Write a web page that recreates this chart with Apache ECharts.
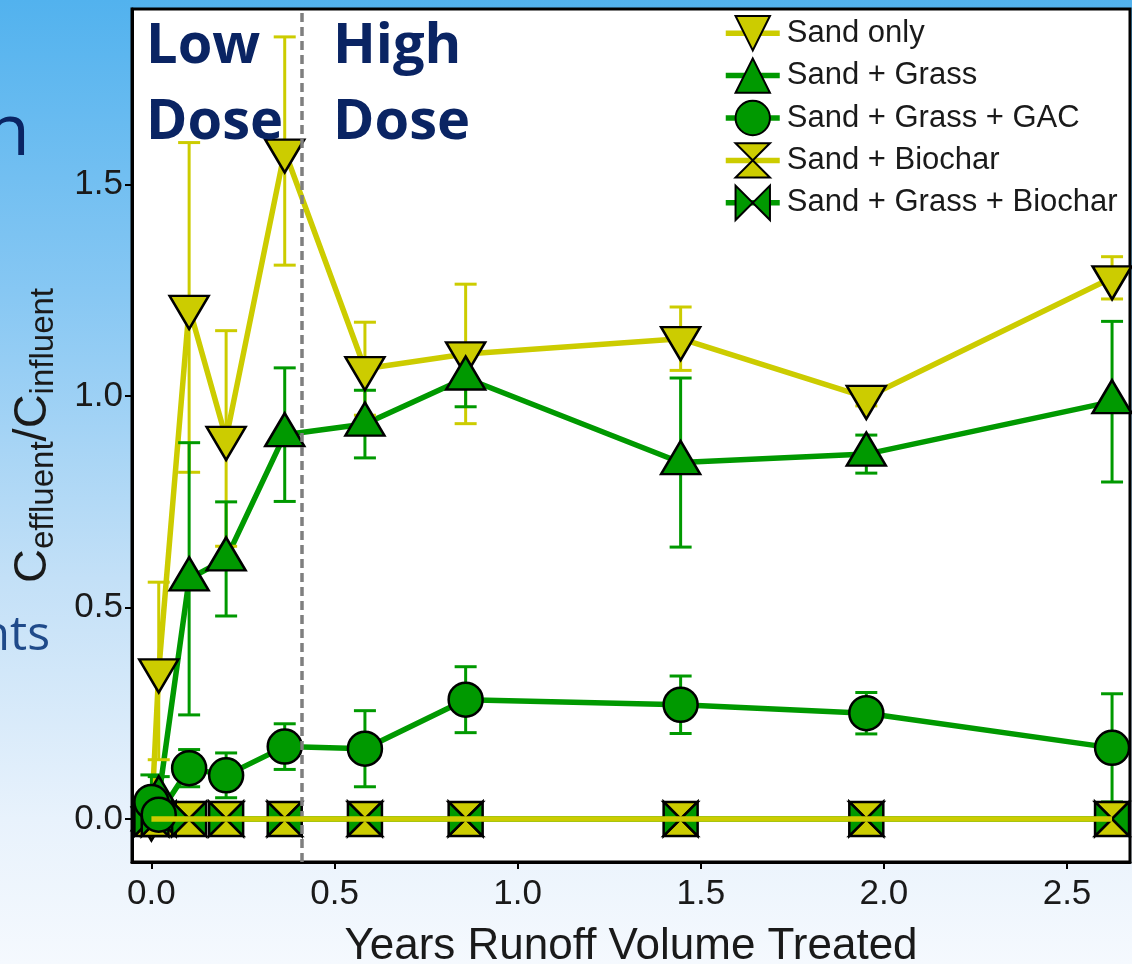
<!DOCTYPE html>
<html>
<head>
<meta charset="utf-8">
<script src="https://cdn.jsdelivr.net/npm/echarts@6/dist/echarts.min.js"></script>
<style>
  html, body { margin: 0; padding: 0; }
  #chart { width: 1132px; height: 964px; }
</style>
</head>
<body>
<div id="chart"></div>
<script>
// x positions (years of runoff volume treated)
const years = [0, 0.02, 0.103, 0.204, 0.364, 0.583, 0.858, 1.445, 1.952, 2.623];
// C_effluent / C_influent, mean and sd
const sandOnly = [0, 0.35, 1.21, 0.90, 1.58, 1.065, 1.10, 1.136, 0.997, 1.28];
const sandOnlySd = [0, 0.21, 0.39, 0.255, 0.27, 0.11, 0.165, 0.075, 0.02, 0.05];
const sandGrass = [0, 0.05, 0.568, 0.615, 0.909, 0.934, 1.043, 0.843, 0.863, 0.987];
const sandGrassSd = [0, 0.05, 0.322, 0.135, 0.158, 0.08, 0.068, 0.2, 0.045, 0.19];
const sandGrassGac = [0.04, 0.01, 0.12, 0.103, 0.171, 0.166, 0.282, 0.27, 0.25, 0.168];
const sandGrassGacSd = [0.064, 0.01, 0.044, 0.053, 0.054, 0.09, 0.078, 0.068, 0.049, 0.128];
const sandBiochar = [0, 0, 0, 0, 0, 0, 0, 0, 0, 0];
const sandGrassBiochar = [0, 0, 0, 0, 0, 0, 0, 0, 0, 0];
const xTicks = [0, 0.5, 1, 1.5, 2, 2.5];
const yTicks = [0, 0.5, 1, 1.5];
const doseSplit = 0.415;

const YELLOW = '#cccc00';
const GREEN = '#009900';
const HOURGLASS = 'path://M0,0L10,0L0,10L10,10Z';
const BOWTIE = 'path://M0,0L0,10L10,0L10,10Z';

const groups = [
  { name: 'Sand only', vals: sandOnly, sd: sandOnlySd, color: YELLOW, symbol: 'triangle', size: [39, 33], rotate: 180, offset: [0, 5] },
  { name: 'Sand + Grass', vals: sandGrass, sd: sandGrassSd, color: GREEN, symbol: 'triangle', size: [39, 33], rotate: 0, offset: [0, -5] },
  { name: 'Sand + Grass + GAC', vals: sandGrassGac, sd: sandGrassGacSd, color: GREEN, symbol: 'circle', size: 34, rotate: 0, offset: [0, 0] },
  { name: 'Sand + Biochar', vals: sandBiochar, sd: null, color: YELLOW, symbol: HOURGLASS, size: 34, rotate: 0, offset: [0, 0] },
  { name: 'Sand + Grass + Biochar', vals: sandGrassBiochar, sd: null, color: GREEN, symbol: BOWTIE, size: 34, rotate: 0, offset: [0, 0] }
];

const pairs = vals => years.map((x, i) => [x, vals[i]]);

const series = [];
// lines (first, so legend takes its icon from them)
groups.forEach((g, gi) => {
  series.push({
    name: g.name,
    type: 'line',
    data: pairs(g.vals),
    showSymbol: false,
    symbol: g.symbol,
    symbolSize: g.size,
    symbolRotate: g.rotate,
    lineStyle: { color: g.color, width: 5.5 },
    itemStyle: { color: g.color, borderColor: '#000', borderWidth: 2.5 },
    z: g.name === 'Sand + Biochar' ? 6 : 2,
    silent: true,
    markLine: gi === 0 ? {
      silent: true,
      symbol: ['none', 'none'],
      label: { show: false },
      lineStyle: { color: '#7f7f7f', type: [9, 5], width: 3.5 },
      data: [{ xAxis: doseSplit }]
    } : undefined
  });
});
// error bars
groups.forEach(g => {
  if (!g.sd) return;
  series.push({
    name: g.name + ' sd',
    type: 'custom',
    z: 3,
    silent: true,
    data: years.map((x, i) => [x, g.vals[i] - g.sd[i], g.vals[i] + g.sd[i]]),
    encode: { x: 0, y: [1, 2] },
    renderItem: function (params, api) {
      const x = api.value(0);
      const lo = api.coord([x, api.value(1)]);
      const hi = api.coord([x, api.value(2)]);
      const w = 11;
      const st = { stroke: g.color, lineWidth: 3 };
      return {
        type: 'group',
        children: [
          { type: 'line', shape: { x1: hi[0], y1: hi[1], x2: lo[0], y2: lo[1] }, style: st },
          { type: 'line', shape: { x1: hi[0] - w, y1: hi[1], x2: hi[0] + w, y2: hi[1] }, style: st },
          { type: 'line', shape: { x1: lo[0] - w, y1: lo[1], x2: lo[0] + w, y2: lo[1] }, style: st }
        ]
      };
    }
  });
});
// markers
[0, 1, 3, 4, 2].forEach(gi => {
  const g = groups[gi];
  series.push({
    name: g.name,
    type: 'scatter',
    data: pairs(g.vals),
    symbol: g.symbol,
    symbolSize: g.size,
    symbolRotate: g.rotate,
    symbolOffset: g.offset,
    itemStyle: { color: g.color, borderColor: '#000', borderWidth: 2.5, opacity: 1 },
    z: 4,
    silent: true
  });
});

const chart = echarts.init(document.getElementById('chart'));
chart.setOption({
  animation: false,
  backgroundColor: 'transparent',
  textStyle: { fontFamily: 'Liberation Sans, Arial, sans-serif' },
  graphic: [
    {
      type: 'rect', z: -10, silent: true,
      shape: { x: 0, y: 0, width: 1132, height: 964 },
      style: {
        fill: new echarts.graphic.LinearGradient(0, 0, 0, 1, [
          { offset: 0, color: '#52b2ee' },
          { offset: 0.3, color: '#86c7f3' },
          { offset: 0.6, color: '#c3e0f7' },
          { offset: 0.85, color: '#e8f2fc' },
          { offset: 1, color: '#f5f9fe' }
        ])
      }
    },
    { type: 'text', z: 10, silent: true, style: { text: 'n', x: 30, y: 134, align: 'right', verticalAlign: 'middle', fill: '#0a2463', font: '72px "Open Sans", sans-serif' } },
    { type: 'text', z: 10, silent: true, style: { text: 'nts', x: 50, y: 636, align: 'right', verticalAlign: 'middle', fill: '#1f4a8a', font: '48px "Open Sans", sans-serif' } },
    { type: 'text', z: 10, silent: true, style: { text: 'Low', x: 146, y: 47, verticalAlign: 'middle', fill: '#0a2463', font: 'bold 56px "Open Sans", sans-serif' } },
    { type: 'text', z: 10, silent: true, style: { text: 'Dose', x: 146, y: 123, verticalAlign: 'middle', fill: '#0a2463', font: 'bold 56px "Open Sans", sans-serif' } },
    { type: 'text', z: 10, silent: true, style: { text: 'High', x: 333, y: 47, verticalAlign: 'middle', fill: '#0a2463', font: 'bold 56px "Open Sans", sans-serif' } },
    { type: 'text', z: 10, silent: true, style: { text: 'Dose', x: 333, y: 123, verticalAlign: 'middle', fill: '#0a2463', font: 'bold 56px "Open Sans", sans-serif' } }
  ],
  grid: {
    left: 132, right: 2, top: 9, bottom: 102,
    outerBoundsMode: 'none',
    containLabel: false,
    show: true, backgroundColor: '#fff', borderColor: '#000', borderWidth: 3
  },
  legend: {
    data: groups.map(g => g.name),
    orient: 'vertical',
    left: 718, top: 10,
    itemWidth: 54, itemHeight: 43, itemGap: 6,
    selectedMode: false,
    lineStyle: { width: 5.5 },
    textStyle: { fontSize: 31, color: '#1a1a1a', padding: [0, 0, 0, 2], fontFamily: 'Liberation Sans, Arial, sans-serif' }
  },
  xAxis: {
    type: 'value',
    min: -0.053, max: 2.672,
    name: 'Years Runoff Volume Treated',
    nameLocation: 'middle', nameGap: 63,
    nameTextStyle: { fontSize: 44, color: '#1a1a1a' },
    axisLine: { show: true, onZero: false, lineStyle: { color: '#000', width: 3 } },
    axisTick: { show: true, length: 7, customValues: xTicks, lineStyle: { color: '#000', width: 2 } },
    axisLabel: { customValues: xTicks, fontSize: 35, color: '#1a1a1a', margin: 15, formatter: v => v.toFixed(1) },
    splitLine: { show: false }
  },
  yAxis: {
    type: 'value',
    min: -0.102, max: 1.916,
    name: '{c|C}{s|effluent}{c|/C}{s|influent}',
    nameLocation: 'middle', nameGap: 72, nameRotate: 90,
    nameTextStyle: {
      color: '#1a1a1a',
      rich: {
        c: { fontSize: 47, lineHeight: 54, color: '#1a1a1a' },
        s: { fontSize: 33, lineHeight: 33, verticalAlign: 'bottom', color: '#1a1a1a' }
      }
    },
    axisLine: { show: true, onZero: false, lineStyle: { color: '#000', width: 3 } },
    axisTick: { show: true, length: 7, customValues: yTicks, lineStyle: { color: '#000', width: 2 } },
    axisLabel: { customValues: yTicks, fontSize: 35, color: '#1a1a1a', margin: 9, formatter: v => v.toFixed(1) },
    splitLine: { show: false }
  },
  series: series
});
</script>
</body>
</html>
